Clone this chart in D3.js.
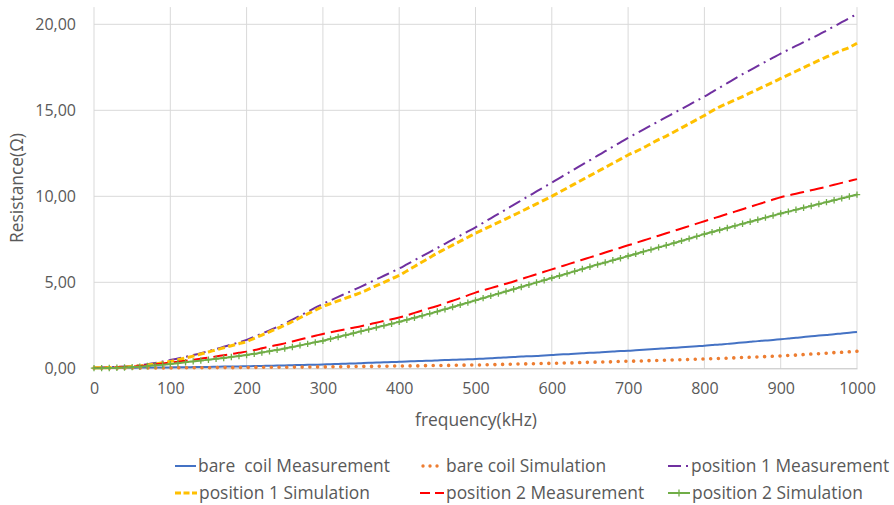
<!DOCTYPE html>
<html>
<head>
<meta charset="utf-8">
<script src="https://cdn.jsdelivr.net/npm/d3@7"></script>
<style>
  html, body { margin: 0; padding: 0; background: #fff; }
  svg { display: block; font-family: "Open Sans", "Liberation Sans", sans-serif; }
  text { white-space: pre; }
</style>
</head>
<body>
<svg id="chart" width="894" height="505"></svg>
<script>
// ---------- DATA ----------
const frequency = [0,10,20,30,40,50,60,70,80,90,100,110,120,130,140,150,160,170,180,190,200,
  210,220,230,240,250,260,270,280,290,300,310,320,330,340,350,360,370,380,390,400,
  410,420,430,440,450,460,470,480,490,500,510,520,530,540,550,560,570,580,590,600,
  610,620,630,640,650,660,670,680,690,700,710,720,730,740,750,760,770,780,790,800,
  810,820,830,840,850,860,870,880,890,900,910,920,930,940,950,960,970,980,990,1000];

const bareCoilMeasurement = [0.02,0.02,0.02,0.03,0.03,0.03,0.04,0.04,0.04,0.05,0.05,
  0.06,0.06,0.07,0.08,0.08,0.09,0.10,0.10,0.11,0.12,
  0.13,0.14,0.15,0.16,0.17,0.18,0.19,0.20,0.21,0.22,
  0.24,0.25,0.27,0.28,0.30,0.32,0.33,0.35,0.36,0.38,
  0.40,0.41,0.43,0.44,0.46,0.48,0.49,0.51,0.52,0.54,
  0.56,0.58,0.61,0.63,0.65,0.68,0.70,0.72,0.75,0.77,
  0.80,0.82,0.85,0.87,0.90,0.92,0.95,0.97,1.00,1.02,
  1.05,1.08,1.11,1.14,1.17,1.19,1.22,1.25,1.28,1.31,
  1.35,1.39,1.42,1.46,1.50,1.54,1.58,1.61,1.65,1.69,
  1.73,1.77,1.82,1.86,1.90,1.94,1.98,2.03,2.07,2.11];

const bareCoilSimulation = [0.01,0.01,0.01,0.01,0.01,0.02,0.02,0.02,0.02,0.02,0.02,
  0.03,0.03,0.03,0.03,0.03,0.04,0.04,0.04,0.05,0.05,
  0.05,0.06,0.06,0.06,0.06,0.07,0.07,0.07,0.08,0.08,
  0.09,0.09,0.10,0.10,0.11,0.11,0.12,0.12,0.13,0.13,
  0.14,0.14,0.15,0.16,0.16,0.17,0.17,0.18,0.19,0.19,
  0.20,0.21,0.22,0.23,0.24,0.25,0.26,0.27,0.28,0.29,
  0.30,0.31,0.32,0.34,0.35,0.36,0.37,0.38,0.40,0.41,
  0.42,0.43,0.45,0.46,0.47,0.49,0.50,0.51,0.53,0.54,
  0.56,0.57,0.59,0.61,0.63,0.64,0.66,0.68,0.70,0.72,
  0.75,0.77,0.80,0.83,0.85,0.88,0.91,0.93,0.96,0.99];

const position1Measurement = [0.05,0.05,0.06,0.08,0.10,0.13,0.18,0.24,0.31,0.39,0.48,
  0.57,0.67,0.77,0.88,1.00,1.12,1.25,1.38,1.51,1.65,
  1.83,2.02,2.20,2.40,2.60,2.83,3.06,3.29,3.52,3.75,
  3.95,4.15,4.35,4.55,4.75,4.96,5.17,5.38,5.59,5.80,
  6.04,6.28,6.52,6.76,7.00,7.24,7.48,7.72,7.96,8.20,
  8.46,8.72,8.98,9.24,9.50,9.76,10.02,10.28,10.54,10.80,
  11.06,11.32,11.58,11.84,12.10,12.36,12.62,12.88,13.14,13.40,
  13.64,13.88,14.12,14.36,14.60,14.84,15.08,15.32,15.56,15.80,
  16.06,16.32,16.58,16.84,17.10,17.34,17.58,17.82,18.06,18.30,
  18.52,18.74,18.96,19.18,19.40,19.64,19.88,20.12,20.36,20.60];

const position1Simulation = [0.03,0.03,0.04,0.05,0.07,0.10,0.14,0.19,0.25,0.32,0.40,
  0.50,0.60,0.71,0.83,0.95,1.07,1.19,1.31,1.43,1.55,
  1.74,1.93,2.12,2.31,2.50,2.72,2.94,3.16,3.38,3.60,
  3.76,3.92,4.08,4.24,4.40,4.60,4.80,5.00,5.20,5.40,
  5.66,5.92,6.18,6.44,6.70,6.93,7.16,7.39,7.62,7.85,
  8.06,8.27,8.48,8.69,8.90,9.12,9.34,9.56,9.78,10.00,
  10.24,10.48,10.72,10.96,11.20,11.44,11.68,11.92,12.16,12.40,
  12.60,12.82,13.06,13.30,13.50,13.74,13.98,14.22,14.46,14.70,
  14.96,15.20,15.40,15.60,15.80,16.01,16.22,16.43,16.64,16.85,
  17.06,17.27,17.48,17.69,17.90,18.10,18.30,18.48,18.66,18.90];

const position2Measurement = [0.02,0.02,0.03,0.05,0.07,0.10,0.14,0.18,0.23,0.28,0.33,
  0.38,0.44,0.50,0.56,0.62,0.69,0.76,0.83,0.90,0.97,
  1.06,1.16,1.26,1.35,1.45,1.56,1.67,1.78,1.89,2.00,
  2.09,2.18,2.27,2.36,2.45,2.55,2.65,2.75,2.85,2.95,
  3.08,3.22,3.36,3.50,3.62,3.78,3.93,4.08,4.24,4.40,
  4.53,4.66,4.79,4.92,5.05,5.19,5.33,5.47,5.61,5.75,
  5.89,6.03,6.17,6.31,6.45,6.59,6.73,6.87,7.01,7.15,
  7.29,7.43,7.57,7.71,7.85,7.99,8.13,8.27,8.41,8.55,
  8.69,8.83,8.97,9.11,9.25,9.39,9.53,9.67,9.81,9.95,
  10.05,10.15,10.25,10.35,10.45,10.56,10.67,10.78,10.89,11.00];

const position2Simulation = [0.01,0.01,0.02,0.03,0.05,0.07,0.10,0.13,0.17,0.21,0.25,
  0.30,0.35,0.40,0.45,0.50,0.55,0.60,0.66,0.71,0.77,
  0.84,0.92,0.99,1.07,1.15,1.24,1.33,1.42,1.51,1.60,
  1.71,1.82,1.93,2.04,2.15,2.26,2.37,2.48,2.59,2.70,
  2.82,2.94,3.06,3.18,3.30,3.43,3.56,3.69,3.82,3.95,
  4.08,4.21,4.34,4.47,4.60,4.73,4.86,4.99,5.12,5.25,
  5.38,5.51,5.64,5.77,5.90,6.03,6.15,6.28,6.40,6.53,
  6.65,6.78,6.90,7.03,7.15,7.28,7.41,7.54,7.67,7.80,
  7.92,8.04,8.16,8.28,8.40,8.52,8.64,8.76,8.88,9.00,
  9.11,9.22,9.33,9.44,9.55,9.66,9.77,9.88,9.99,10.10];

const xTicks = [0,100,200,300,400,500,600,700,800,900,1000];
const yTicks = [0,5,10,15,20];
const seriesNames = ["bare  coil Measurement","bare coil Simulation","position 1 Measurement",
  "position 1 Simulation","position 2 Measurement","position 2 Simulation"];
const xTitle = "frequency(kHz)";
const yTitle = "Resistance(Ω)";

// ---------- STYLES ----------
const styles = [
  {color:"#4472C4", width:2,   dash:null,        cap:"butt"},
  {color:"#ED7D31", width:3.6, dash:"0.01 7.7",  cap:"round"},
  {color:"#7030A0", width:2,   dash:"13 5 2 5",  cap:"butt"},
  {color:"#FFC000", width:3,   dash:"7 3.5",     cap:"butt"},
  {color:"#FF0000", width:2,   dash:"14 6",      cap:"butt"},
  {color:"#70AD47", width:2,   dash:null,        cap:"butt", marker:true}
];
const seriesValues = [bareCoilMeasurement, bareCoilSimulation, position1Measurement,
  position1Simulation, position2Measurement, position2Simulation];

// ---------- CHART ----------
const svg = d3.select("#chart");
const x = d3.scaleLinear().domain([0,1000]).range([94,857]);
const y = d3.scaleLinear().domain([0,21]).range([368.3,7.1]);

const locale = d3.formatLocale({decimal:",", thousands:".", grouping:[3], currency:["","€"]});
const fmt = locale.format(".2f");
const textColor = "#595959";
const tickSize = 16;
const labelSize = 17.4;

// gridlines
const grid = svg.append("g");
grid.selectAll("line.v").data(xTicks).join("line")
  .attr("x1", d=>x(d)).attr("x2", d=>x(d))
  .attr("y1", y(21)).attr("y2", y(0))
  .attr("stroke", "#D9D9D9").attr("stroke-width", 1);
grid.selectAll("line.h").data(yTicks.filter(d=>d>0)).join("line")
  .attr("x1", x(0)).attr("x2", x(1000))
  .attr("y1", d=>y(d)).attr("y2", d=>y(d))
  .attr("stroke", "#D9D9D9").attr("stroke-width", 1);

// axes via d3.axis
const xAxis = d3.axisBottom(x).tickValues(xTicks).tickSize(0).tickPadding(14).tickFormat(d3.format("d"));
const gx = svg.append("g").attr("transform", `translate(0,${y(0)})`).call(xAxis);
gx.select(".domain").attr("stroke", "#BFBFBF").attr("stroke-width", 1);
gx.selectAll("text").attr("fill", textColor).attr("font-size", tickSize)
  .attr("font-family", "'Open Sans', sans-serif");

const yAxis = d3.axisLeft(y).tickValues(yTicks).tickSize(0).tickPadding(18).tickFormat(fmt);
const gy = svg.append("g").attr("transform", `translate(${x(0)},0)`).call(yAxis);
gy.select(".domain").remove();
gy.selectAll("text").attr("fill", textColor).attr("font-size", tickSize)
  .attr("font-family", "'Open Sans', sans-serif");

// axis titles
svg.append("text").attr("x", 476).attr("y", 426).attr("text-anchor", "middle")
  .attr("fill", textColor).attr("font-size", labelSize).text(xTitle);
svg.append("text").attr("transform", "translate(23,188) rotate(-90)").attr("text-anchor", "middle")
  .attr("fill", textColor).attr("font-size", labelSize).text(yTitle);

// series lines
const line = d3.line().x((d,i)=>x(frequency[i])).y(d=>y(d)).curve(d3.curveMonotoneX);
const gLines = svg.append("g");
seriesValues.forEach((vals, k) => {
  const s = styles[k];
  gLines.append("path").datum(vals)
    .attr("d", line).attr("fill", "none")
    .attr("stroke", s.color).attr("stroke-width", s.width)
    .attr("stroke-dasharray", s.dash).attr("stroke-linecap", s.cap);
  if (s.marker) {
    const m = 3.2;
    gLines.append("g").selectAll("path").data(vals).join("path")
      .attr("d", (d,i)=>{
        const cx = x(frequency[i]), cy = y(d);
        return `M${cx-m},${cy}H${cx+m}M${cx},${cy-m}V${cy+m}`;
      })
      .attr("stroke", s.color).attr("stroke-width", 1.3).attr("fill", "none");
  }
});

// legend
const legendPos = [
  {lx:175, tx:198, y:466}, {lx:420, tx:446, y:466}, {lx:668, tx:691, y:466},
  {lx:175, tx:199, y:493}, {lx:420, tx:446, y:493}, {lx:668, tx:692, y:493}
];
const gLeg = svg.append("g");
seriesNames.forEach((name, k) => {
  const s = styles[k], p = legendPos[k];
  const len = p.tx - p.lx - 2;
  const ls = gLeg.append("line").attr("x1", p.lx).attr("x2", p.lx+len)
    .attr("y1", p.y).attr("y2", p.y)
    .attr("stroke", s.color).attr("stroke-width", Math.min(s.width, 3))
    .attr("stroke-linecap", s.cap);
  if (k===1) ls.attr("stroke-dasharray", "0.01 7").attr("x1", p.lx+3).attr("stroke-width", 3.4);
  else if (k===2) ls.attr("stroke-dasharray", "13 5 2 5");
  else if (k===3) ls.attr("stroke-dasharray", "6 2.5");
  else if (k===4) ls.attr("stroke-dasharray", "10 5");
  if (s.marker) {
    const cx = p.lx + len/2;
    gLeg.append("path").attr("d", `M${cx-3},${p.y}H${cx+3}M${cx},${p.y-3.5}V${p.y+3.5}`)
      .attr("stroke", s.color).attr("stroke-width", 1.3);
  }
  gLeg.append("text").attr("x", p.tx).attr("y", p.y).attr("dy", "0.35em")
    .attr("fill", textColor).attr("font-size", labelSize).text(name);
});
</script>
</body>
</html>
